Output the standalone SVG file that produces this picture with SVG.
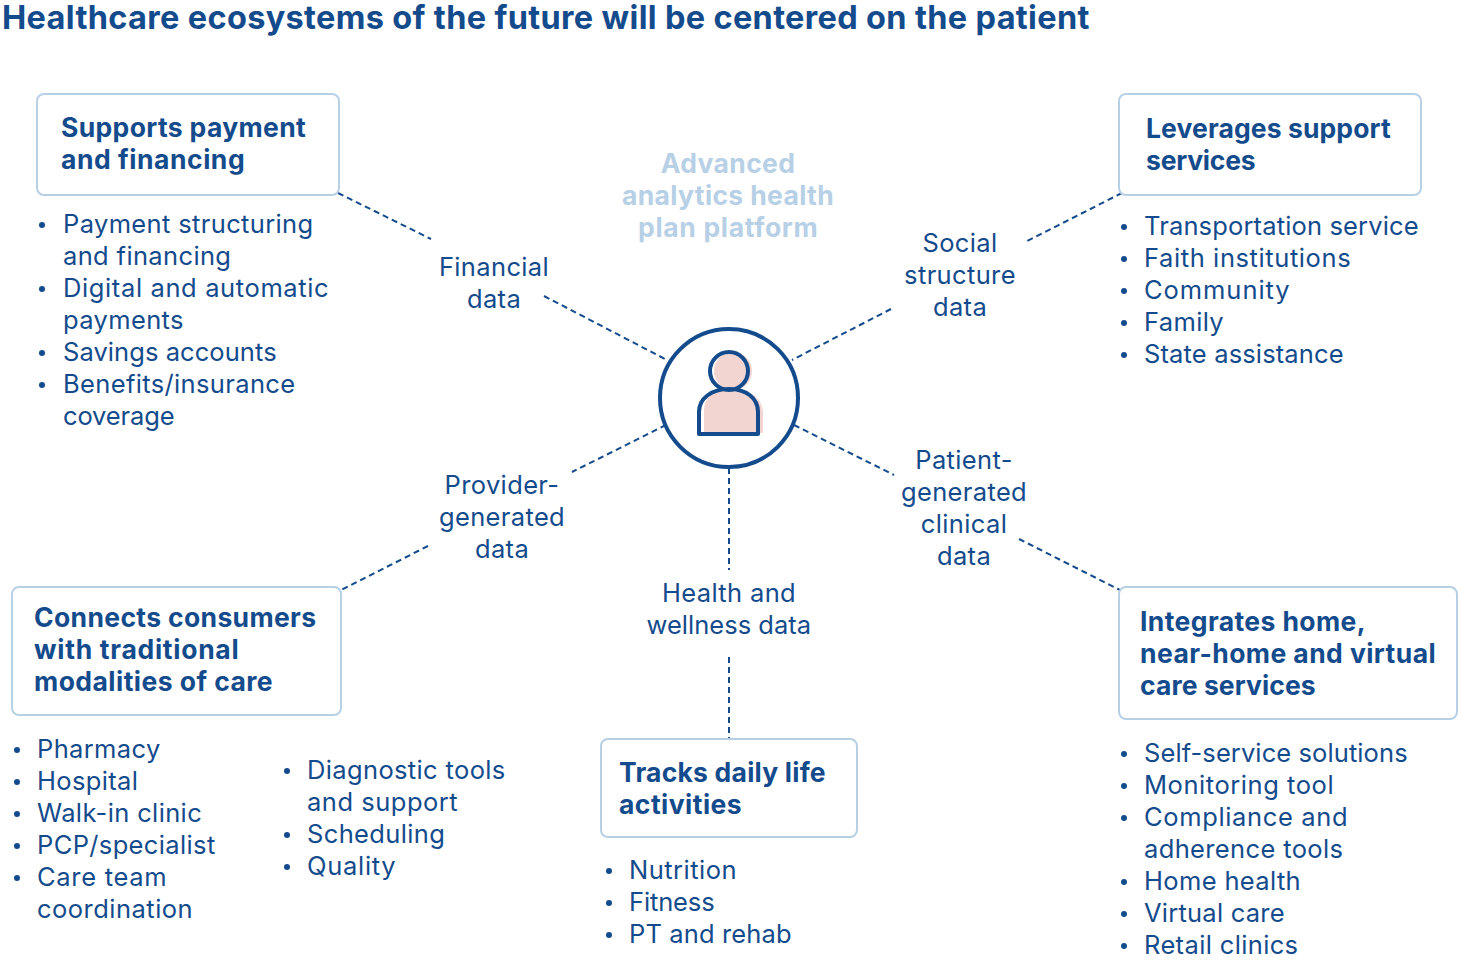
<svg xmlns="http://www.w3.org/2000/svg" width="1461" height="961" viewBox="0 0 1461 961">
<style>
text{font-family:Inter,"Liberation Sans",sans-serif;fill:#144B8C}
.t{font-size:32.5px;font-weight:700;letter-spacing:.33px}
.h{font-size:26.5px;font-weight:700;letter-spacing:.35px}
.b{font-size:25.5px;letter-spacing:.36px}
.m{text-anchor:middle}
.a{font-size:26.5px;font-weight:700;fill:#B7D0E6;text-anchor:middle;letter-spacing:.35px}
.box{fill:#fff;stroke:#B7D0E6;stroke-width:2}
.c{fill:none;stroke:#144B8C;stroke-width:2;stroke-dasharray:6 4}
.d{fill:#144B8C}
</style>
<text class="t" x="2" y="29">Healthcare ecosystems of the future will be centered on the patient</text>
<g id="connectors">
<path class="c" d="M338 193L431 239"/>
<path class="c" d="M544 296L667 360"/>
<path class="c" d="M1122 193L1027 241"/>
<path class="c" d="M891 309L792 360"/>
<path class="c" d="M666 425L572 472"/>
<path class="c" d="M428 546L341 590"/>
<path class="c" d="M794 425L894 475"/>
<path class="c" d="M1019 539L1120 590"/>
<path class="c" d="M729 468V570"/>
<path class="c" d="M729 657V739"/>
</g>
<g id="platform"><text class="a" x="728" y="173">Advanced</text><text class="a" x="728" y="205">analytics health</text><text class="a" x="728" y="237" textLength="180">plan platform</text></g>
<g id="patient">
<circle cx="729" cy="398" r="69" fill="#fff" stroke="#144B8C" stroke-width="4"/>
<circle cx="733" cy="371" r="19" fill="#F2D5D1"/>
<path d="M704 433V411C704 396 716 389 730 389C750 389 763 398 763 414V433Z" fill="#F2D5D1"/>
<circle cx="729" cy="371" r="19" fill="none" stroke="#144B8C" stroke-width="4"/>
<path d="M699 434V412C699 398 712 389 729 389C746 389 758 398 758 412V434Z" fill="none" stroke="#144B8C" stroke-width="4" stroke-linejoin="round"/>
</g>
<g id="financial-data"><text class="b m" x="494" y="276">Financial</text><text class="b m" x="494" y="308">data</text></g>
<g id="social-data"><text class="b m" x="960" y="252">Social</text><text class="b m" x="960" y="284">structure</text><text class="b m" x="960" y="316">data</text></g>
<g id="provider-data"><text class="b m" x="502" y="494">Provider-</text><text class="b m" x="502" y="526">generated</text><text class="b m" x="502" y="558">data</text></g>
<g id="patient-data"><text class="b m" x="964" y="469">Patient-</text><text class="b m" x="964" y="501">generated</text><text class="b m" x="964" y="533">clinical</text><text class="b m" x="964" y="565">data</text></g>
<g id="wellness-data"><text class="b m" x="729" y="602">Health and</text><text class="b m" x="729" y="634" textLength="165">wellness data</text></g>
<g id="payment">
<rect class="box" x="37" y="94" width="302" height="101" rx="7"/>
<text class="h" x="61" y="137">Supports payment</text><text class="h" x="61" y="169" textLength="184">and financing</text>
<circle class="d" cx="42" cy="225" r="3"/><circle class="d" cx="42" cy="289" r="3"/><circle class="d" cx="42" cy="353" r="3"/><circle class="d" cx="42" cy="385" r="3"/>
<text class="b" x="63" y="233">Payment structuring</text><text class="b" x="63" y="265">and financing</text><text class="b" x="63" y="297" textLength="266">Digital and automatic</text><text class="b" x="63" y="329">payments</text><text class="b" x="63" y="361" textLength="214">Savings accounts</text><text class="b" x="63" y="393">Benefits/insurance</text><text class="b" x="63" y="425" textLength="112">coverage</text>
</g>
<g id="support">
<rect class="box" x="1119" y="94" width="302" height="101" rx="7"/>
<text class="h" x="1146" y="138" textLength="245">Leverages support</text><text class="h" x="1146" y="170" textLength="110">services</text>
<circle class="d" cx="1124" cy="227" r="3"/><circle class="d" cx="1124" cy="259" r="3"/><circle class="d" cx="1124" cy="291" r="3"/><circle class="d" cx="1124" cy="323" r="3"/><circle class="d" cx="1124" cy="355" r="3"/>
<text class="b" x="1144" y="235" textLength="275">Transportation service</text><text class="b" x="1144" y="267" textLength="207">Faith institutions</text><text class="b" x="1144" y="299" textLength="146">Community</text><text class="b" x="1144" y="331">Family</text><text class="b" x="1144" y="363" textLength="200">State assistance</text>
</g>
<g id="traditional">
<rect class="box" x="12" y="587" width="329" height="128" rx="7"/>
<text class="h" x="34" y="627">Connects consumers</text><text class="h" x="34" y="659" textLength="205">with traditional</text><text class="h" x="34" y="691" textLength="239">modalities of care</text>
<circle class="d" cx="17" cy="750" r="3"/><circle class="d" cx="17" cy="782" r="3"/><circle class="d" cx="17" cy="814" r="3"/><circle class="d" cx="17" cy="846" r="3"/><circle class="d" cx="17" cy="878" r="3"/>
<text class="b" x="37" y="758">Pharmacy</text><text class="b" x="37" y="790">Hospital</text><text class="b" x="37" y="822">Walk-in clinic</text><text class="b" x="37" y="854">PCP/specialist</text><text class="b" x="37" y="886" textLength="130">Care team</text><text class="b" x="37" y="918" textLength="156">coordination</text>
<circle class="d" cx="287" cy="771" r="3"/><circle class="d" cx="287" cy="835" r="3"/><circle class="d" cx="287" cy="867" r="3"/>
<text class="b" x="307" y="779">Diagnostic tools</text><text class="b" x="307" y="811" textLength="151">and support</text><text class="b" x="307" y="843">Scheduling</text><text class="b" x="307" y="875" textLength="89">Quality</text>
</g>
<g id="daily">
<rect class="box" x="601" y="739" width="256" height="98" rx="7"/>
<text class="h" x="619" y="782" textLength="207">Tracks daily life</text><text class="h" x="619" y="814" textLength="123">activities</text>
<circle class="d" cx="609" cy="871" r="3"/><circle class="d" cx="609" cy="903" r="3"/><circle class="d" cx="609" cy="935" r="3"/>
<text class="b" x="629" y="879" textLength="108">Nutrition</text><text class="b" x="629" y="911" textLength="86">Fitness</text><text class="b" x="629" y="943" textLength="163">PT and rehab</text>
</g>
<g id="home">
<rect class="box" x="1119" y="587" width="338" height="132" rx="7"/>
<text class="h" x="1140" y="631" textLength="226">Integrates home,</text><text class="h" x="1140" y="663" textLength="296">near-home and virtual</text><text class="h" x="1140" y="695" textLength="176">care services</text>
<circle class="d" cx="1124" cy="754" r="3"/><circle class="d" cx="1124" cy="786" r="3"/><circle class="d" cx="1124" cy="818" r="3"/><circle class="d" cx="1124" cy="882" r="3"/><circle class="d" cx="1124" cy="914" r="3"/><circle class="d" cx="1124" cy="946" r="3"/>
<text class="b" x="1144" y="762" textLength="264">Self-service solutions</text><text class="b" x="1144" y="794" textLength="190">Monitoring tool</text><text class="b" x="1144" y="826" textLength="204">Compliance and</text><text class="b" x="1144" y="858">adherence tools</text><text class="b" x="1144" y="890">Home health</text><text class="b" x="1144" y="922" textLength="141">Virtual care</text><text class="b" x="1144" y="954">Retail clinics</text>
</g>
</svg>
